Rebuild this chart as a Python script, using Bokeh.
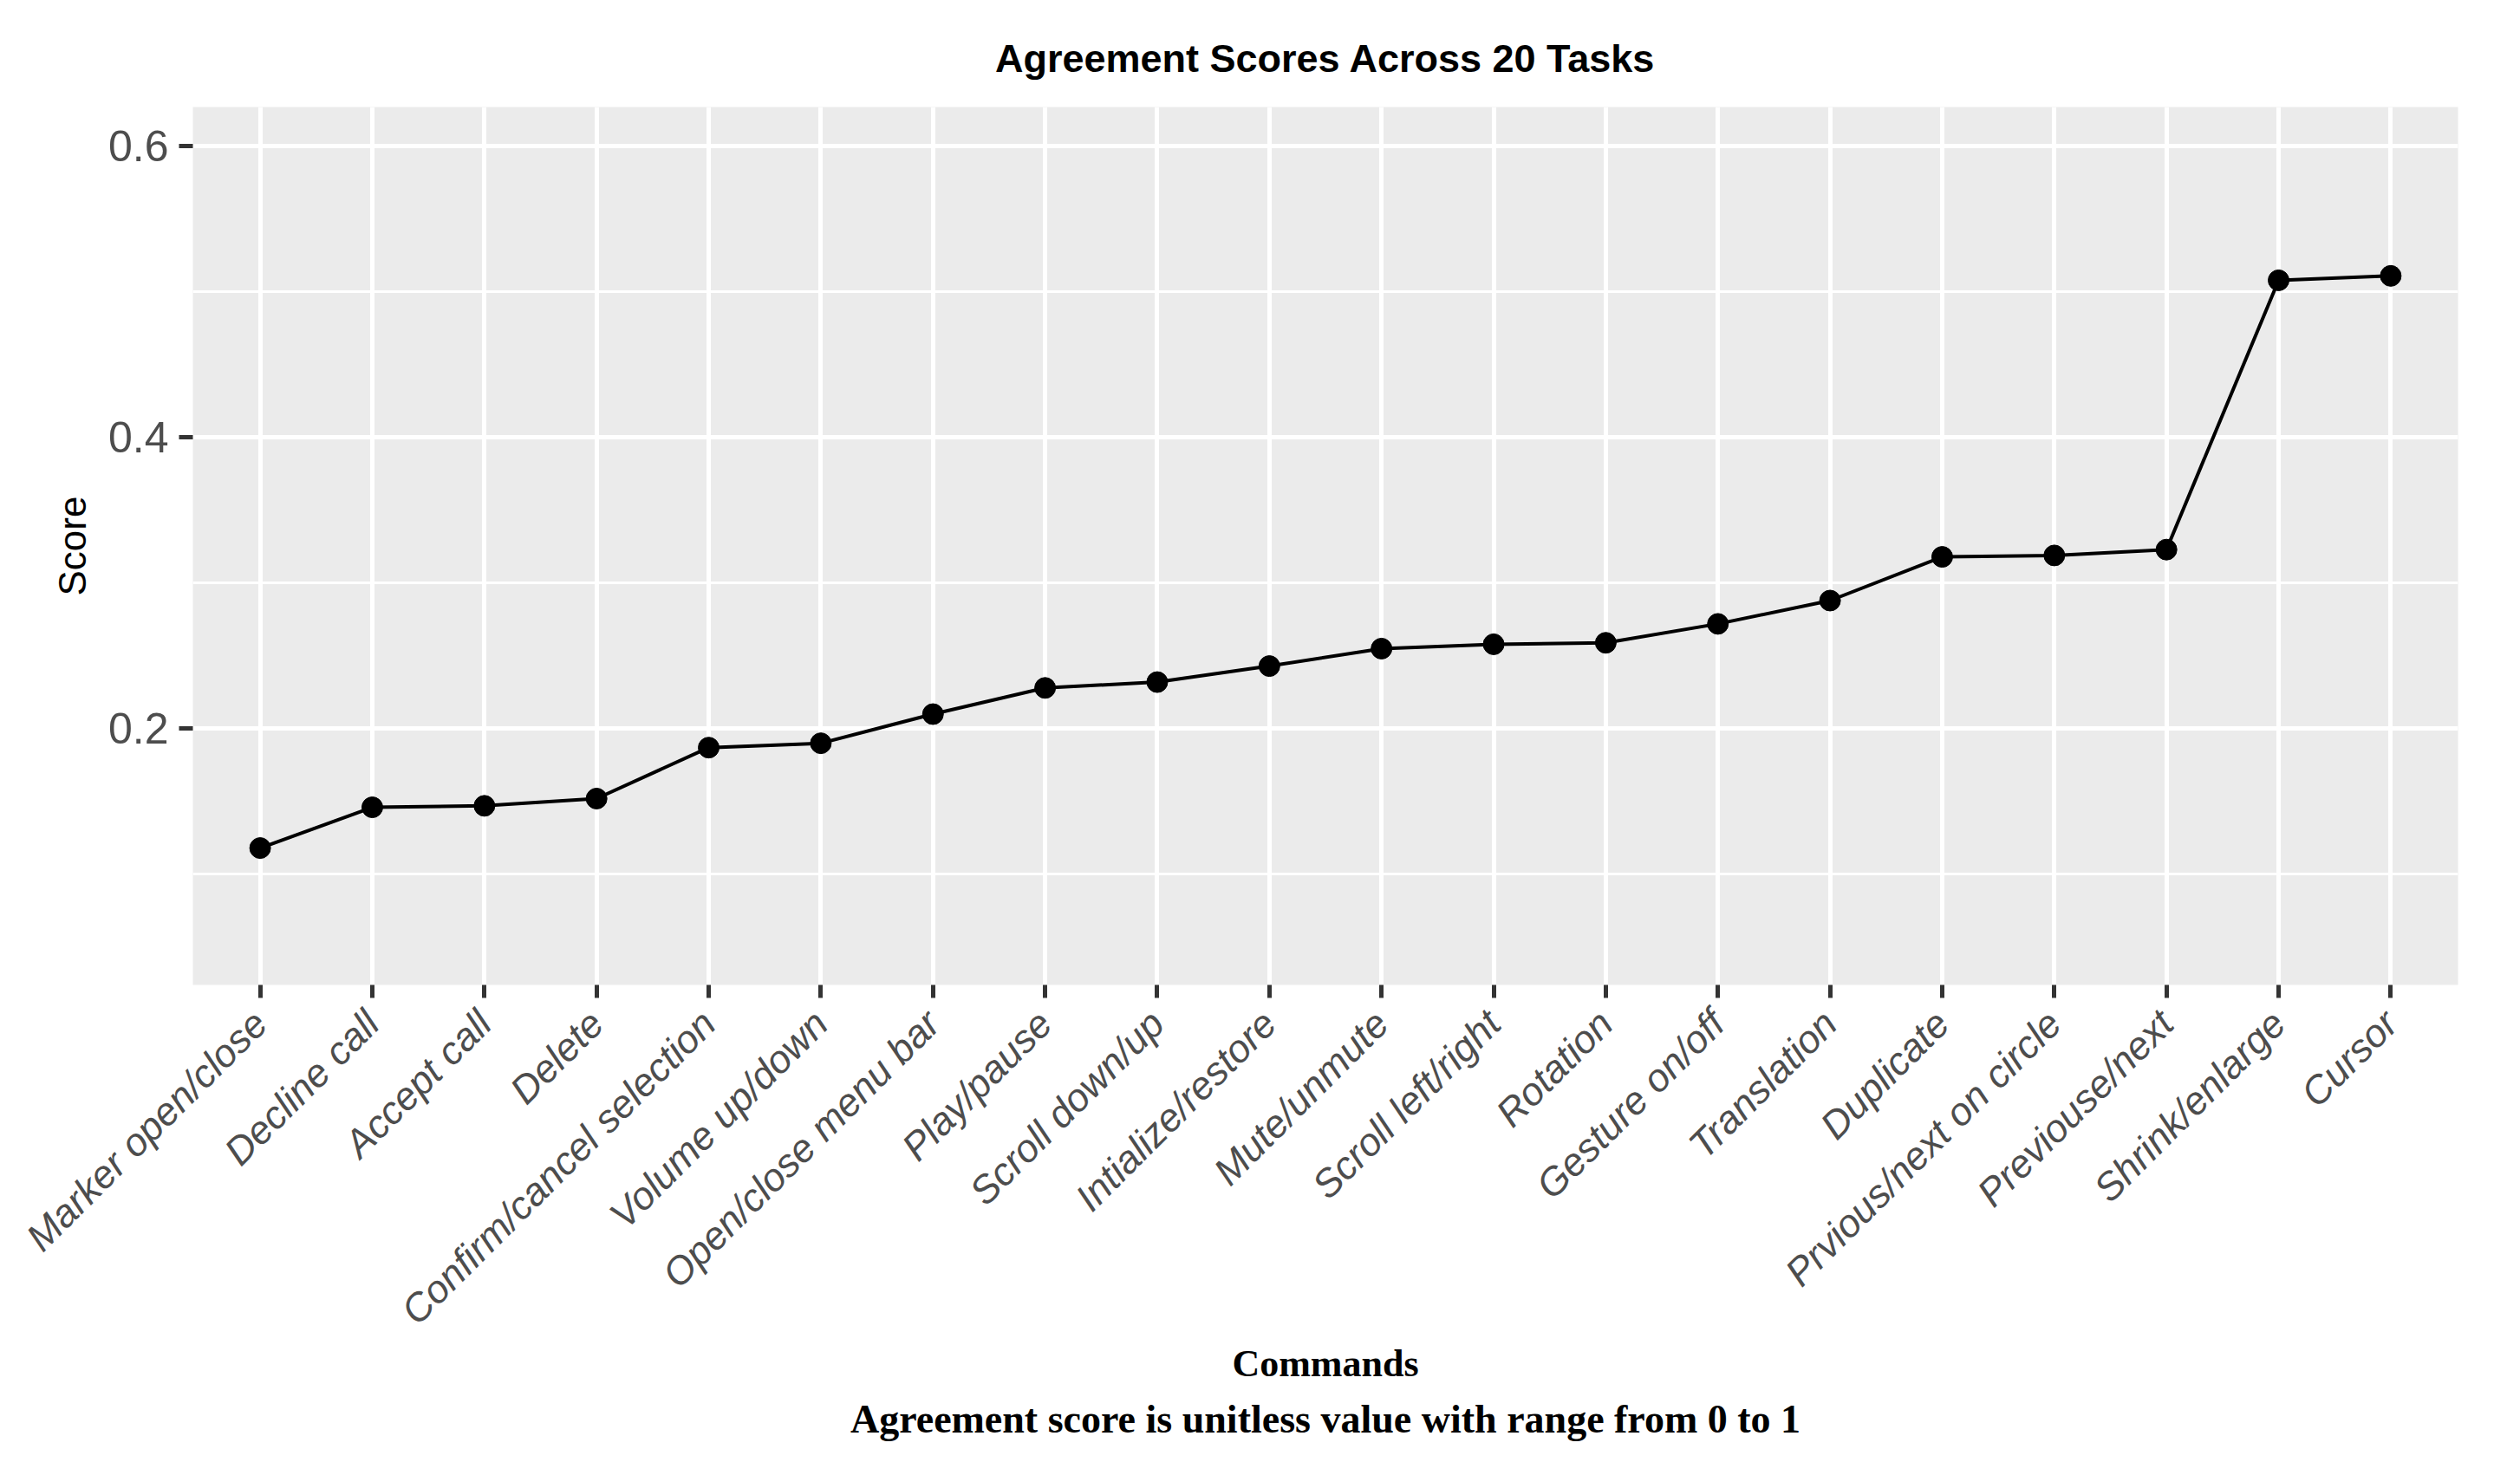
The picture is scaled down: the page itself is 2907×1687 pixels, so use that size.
from math import pi

from bokeh.plotting import figure
from bokeh.models import FactorRange, Range1d, FixedTicker, Title, ColumnDataSource
from bokeh.embed import file_html
from bokeh.resources import INLINE

# ---- data ----
commands = [
    "Marker open/close", "Decline call", "Accept call", "Delete",
    "Confirm/cancel selection", "Volume up/down", "Open/close menu bar",
    "Play/pause", "Scroll down/up", "Intialize/restore", "Mute/unmute",
    "Scroll left/right", "Rotation", "Gesture on/off", "Translation",
    "Duplicate", "Prvious/next on circle", "Previouse/next",
    "Shrink/enlarge", "Cursor",
]
scores = [
    0.118, 0.146, 0.147, 0.152, 0.187, 0.190, 0.210, 0.228, 0.232, 0.243,
    0.255, 0.258, 0.259, 0.272, 0.288, 0.318, 0.319, 0.323, 0.508, 0.511,
]
y_major_ticks = [0.2, 0.4, 0.6]
y_minor_ticks = [0.1, 0.3, 0.5]

title_text = "Agreement Scores Across 20 Tasks"
x_title = "Commands"
y_title = "Score"
note_text = "Agreement score is unitless value with range from 0 to 1"

source = ColumnDataSource(dict(command=commands, score=scores))

p = figure(
    width=2891, height=1671,
    x_range=FactorRange(factors=commands, range_padding=0.1,
                        range_padding_units="absolute"),
    y_range=Range1d(0.024, 0.627),
    output_backend="svg", toolbar_location=None,
    min_border_left=222, min_border_right=56,
    min_border_top=123, min_border_bottom=534,
    background_fill_color="#EBEBEB", border_fill_color="white",
    outline_line_color=None,
)

# title
p.title.text = title_text
p.title.align = "center"
p.title.text_font = "Liberation Sans"
p.title.text_font_size = "45px"
p.title.text_font_style = "bold"
p.title.text_color = "black"
p.title.standoff = 62

# grid
p.xgrid.grid_line_color = "white"
p.xgrid.grid_line_width = 5
p.ygrid.grid_line_color = "white"
p.ygrid.grid_line_width = 5
p.ygrid.minor_grid_line_color = "white"
p.ygrid.minor_grid_line_width = 3

# x axis
xa = p.xaxis[0]
xa.axis_line_color = None
xa.major_tick_in = 0
xa.major_tick_out = 15
xa.major_tick_line_width = 5
xa.major_tick_line_color = "#333333"
xa.major_label_orientation = pi / 4
xa.major_label_text_font = "Liberation Sans"
xa.major_label_text_font_size = "45px"
xa.major_label_text_font_style = "italic"
xa.major_label_text_color = "#4D4D4D"
xa.major_label_standoff = 22
xa.axis_label = x_title
xa.axis_label_text_font = "Liberation Serif"
xa.axis_label_text_font_size = "44px"
xa.axis_label_text_font_style = "bold"
xa.axis_label_text_color = "black"
xa.axis_label_standoff = -10

# y axis
ya = p.yaxis[0]
ya.ticker = FixedTicker(ticks=y_major_ticks, minor_ticks=y_minor_ticks)
ya.axis_line_color = None
ya.major_tick_in = 0
ya.major_tick_out = 16
ya.major_tick_line_width = 5
ya.major_tick_line_color = "#333333"
ya.minor_tick_line_color = None
ya.major_label_text_font = "Liberation Sans"
ya.major_label_text_font_size = "50px"
ya.major_label_text_color = "#4D4D4D"
ya.major_label_standoff = 12
ya.axis_label = y_title
ya.axis_label_text_font = "Liberation Sans"
ya.axis_label_text_font_size = "44px"
ya.axis_label_text_font_style = "normal"
ya.axis_label_text_color = "black"
ya.axis_label_standoff = 14

# note below
note = Title(text=note_text, align="center", text_font="Liberation Serif",
             text_font_size="46px", text_font_style="bold",
             text_color="black", standoff=17)
p.add_layout(note, "below")

# data
p.line(x="command", y="score", source=source, line_color="black", line_width=4)
p.scatter(x="command", y="score", source=source, size=24,
          fill_color="black", line_color="black")

open("out.html", "w").write(file_html(p, INLINE))
